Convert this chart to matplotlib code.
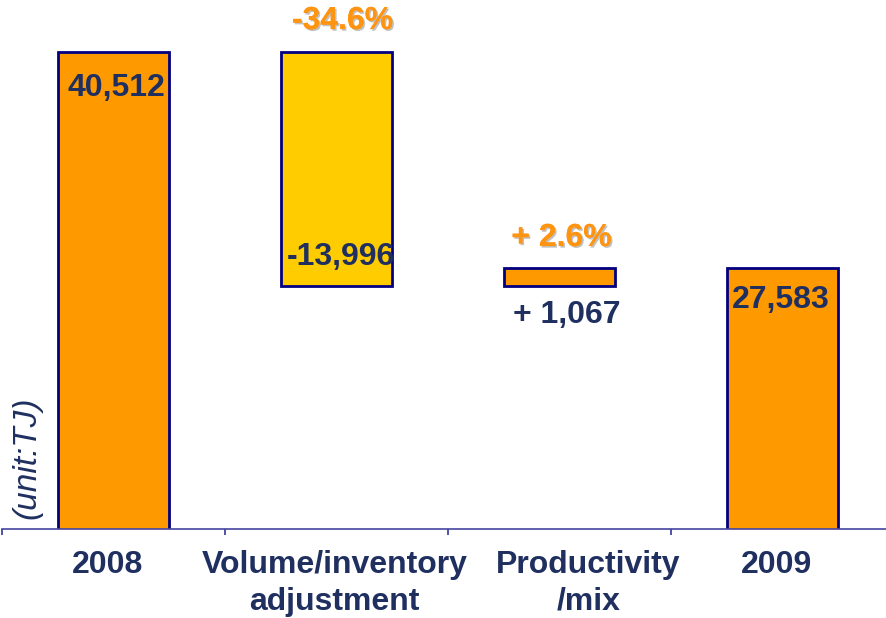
import matplotlib
matplotlib.use("Agg")
import matplotlib.pyplot as plt
import matplotlib.patheffects as pe
import matplotlib.transforms as mtransforms

# waterfall data (unit: TJ)
categories = ["2008", "Volume/inventory\nadjustment", "Productivity\n/mix", "2009"]
starts = [0, 26516, 26516, 0]
ends = [40512, 40512, 27583, 27583]
value_labels = ["40,512", "-13,996", "+ 1,067", "27,583"]
pct_labels = [None, "-34.6%", "+ 2.6%", None]

ORANGE = "#FF9900"
YELLOW = "#FFCC00"
EDGE = "#000080"
NAVY = "#1F2F5F"
PCT_C = "#FF9410"
fills = [ORANGE, YELLOW, ORANGE, ORANGE]

plt.rcParams["font.family"] = ["Liberation Sans", "DejaVu Sans"]

fig = plt.figure(figsize=(8.86, 6.18), dpi=100)
# axes spans slightly beyond the right edge, like the original slide
ax = fig.add_axes([2 / 886, 89 / 618, 892 / 886, 518 / 618])

x = range(len(categories))
heights = [e - s for s, e in zip(starts, ends)]
ax.bar(x, heights, bottom=starts, width=0.5, color=fills, edgecolor=EDGE, linewidth=2)

ax.set_xlim(-0.5, 3.5)
ax.set_ylim(11960, 42970)

for s in ["top", "right", "left"]:
    ax.spines[s].set_visible(False)
ax.spines["bottom"].set_color("#4444A0")
ax.spines["bottom"].set_linewidth(1.2)
ax.set_yticks([])

ax.set_xticks(list(x))
ax.set_xticklabels(categories, fontsize=23, fontweight="bold", color=NAVY, linespacing=1.3)
ax.tick_params(axis="x", which="major", length=0, pad=15)
ax.set_xticks([-0.5, 0.5, 1.5, 2.5, 3.5], minor=True)
ax.tick_params(axis="x", which="minor", length=4, width=1.2, color="#333399", direction="out")

# the slide's category labels sit a little off the bar centres
tick_shift_px = [-6, -2, 29, -6]
for lbl, dx in zip(ax.get_xticklabels(), tick_shift_px):
    lbl.set_transform(lbl.get_transform() + mtransforms.ScaledTranslation(dx / 100, 0, fig.dpi_scale_trans))

# value labels: (dx px, dy px) relative to reference point
label_ref = [ends[0], starts[1], starts[2], ends[3]]
label_off = [(3, -36), (4, 29), (7, -29), (-2, -32)]
for i, (txt, ref, off) in enumerate(zip(value_labels, label_ref, label_off)):
    ax.annotate(txt, xy=(i, ref), xytext=(off[0] * 0.72, off[1] * 0.72),
                textcoords="offset points", ha="center", va="center",
                fontsize=23, fontweight="bold", color=NAVY)

shadow = [pe.withSimplePatchShadow(offset=(1.2, -1.2), shadow_rgbFace="#999999", alpha=0.6), pe.Normal()]
pct_off = {1: (6, 31), 2: (2, 30)}
for i, txt in enumerate(pct_labels):
    if txt is None:
        continue
    dx, dy = pct_off[i]
    t = ax.annotate(txt, xy=(i, ends[i]), xytext=(dx * 0.72, dy * 0.72),
                    textcoords="offset points", ha="center", va="center",
                    fontsize=23, fontweight="bold", color=PCT_C)
    t.set_path_effects(shadow)

fig.text(27 / 886, 1 - 458 / 618, "(unit:TJ)", rotation=90, ha="center", va="center",
         fontsize=24, fontstyle="italic", color=NAVY)

fig.savefig("out.png", dpi=100)
